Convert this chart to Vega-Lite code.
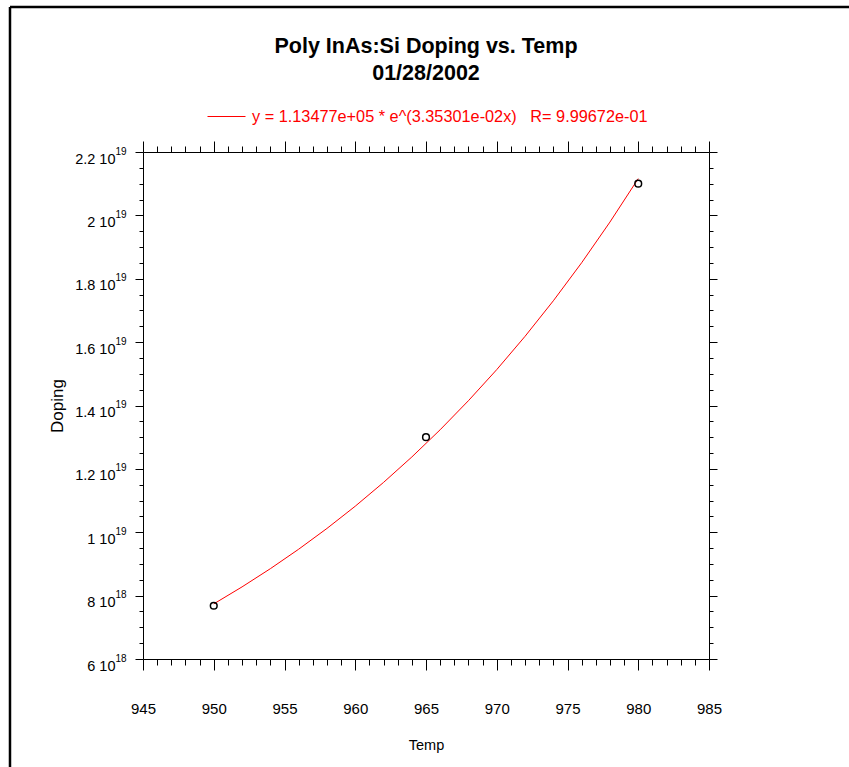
{
  "$schema": "https://vega.github.io/schema/vega-lite/v6.json",
  "width": 566,
  "height": 507,
  "autosize": {"type": "none"},
  "padding": {"left": 143, "top": 152, "right": 140, "bottom": 108},
  "background": "white",
  "config": {
    "view": {"stroke": null},
    "axis": {
      "domainColor": "black",
      "tickColor": "black",
      "labelColor": "black",
      "titleColor": "black",
      "grid": false,
      "domainWidth": 1,
      "tickWidth": 1,
      "labelFont": "Liberation Sans",
      "titleFont": "Liberation Sans",
      "titleFontWeight": "normal",
      "labelOverlap": false,
      "labelFlush": false
    }
  },
  "title": {
    "text": ["Poly InAs:Si Doping vs. Temp", "01/28/2002"],
    "font": "Liberation Sans",
    "fontSize": 21.5,
    "fontWeight": "bold",
    "color": "black",
    "anchor": "middle",
    "lineHeight": 27,
    "baseline": "alphabetic",
    "offset": 0,
    "dy": 95.75
  },
  "datasets": {
    "fit": [
      {"temp": 950, "doping": 7.739e18},
      {"temp": 952, "doping": 8.276e18},
      {"temp": 954, "doping": 8.850e18},
      {"temp": 956, "doping": 9.464e18},
      {"temp": 958, "doping": 1.0120e19},
      {"temp": 960, "doping": 1.0822e19},
      {"temp": 962, "doping": 1.1573e19},
      {"temp": 964, "doping": 1.2376e19},
      {"temp": 966, "doping": 1.3234e19},
      {"temp": 968, "doping": 1.4152e19},
      {"temp": 970, "doping": 1.5133e19},
      {"temp": 972, "doping": 1.6183e19},
      {"temp": 974, "doping": 1.7305e19},
      {"temp": 976, "doping": 1.8505e19},
      {"temp": 978, "doping": 1.9789e19},
      {"temp": 980, "doping": 2.1161e19}
    ],
    "measured": [
      {"temp": 950, "doping": 7.68e18},
      {"temp": 965, "doping": 1.30e19},
      {"temp": 980, "doping": 2.10e19}
    ]
  },
  "layer": [
    {
      "data": {"name": "fit"},
      "mark": {"type": "line", "strokeWidth": 1, "clip": false},
      "encoding": {
        "x": {
          "field": "temp", "type": "quantitative",
          "scale": {"domain": [945, 985], "nice": false, "zero": false},
          "axis": {
            "orient": "bottom",
            "values": [945,946,947,948,949,950,951,952,953,954,955,956,957,958,959,960,961,962,963,964,965,966,967,968,969,970,971,972,973,974,975,976,977,978,979,980,981,982,983,984,985],
            "tickSize": {"condition": {"test": "datum.value % 5 === 0", "value": 11}, "value": 6},
            "labelExpr": "datum.value % 5 === 0 ? datum.label : ''",
            "labelFontSize": 15,
            "labelPadding": 31,
            "title": "Temp",
            "titleFontSize": 14.5,
            "titlePadding": 22
          }
        },
        "y": {
          "field": "doping", "type": "quantitative",
          "scale": {"domain": [6e18, 2.2e19], "nice": false, "zero": false},
          "axis": {
            "orient": "left",
            "values": [6e18,6.5e18,7e18,7.5e18,8e18,8.5e18,9e18,9.5e18,1e19,1.05e19,1.1e19,1.15e19,1.2e19,1.25e19,1.3e19,1.35e19,1.4e19,1.45e19,1.5e19,1.55e19,1.6e19,1.65e19,1.7e19,1.75e19,1.8e19,1.85e19,1.9e19,1.95e19,2e19,2.05e19,2.1e19,2.15e19,2.2e19],
            "tickSize": {"condition": {"test": "datum.value % 2000000000000000000 === 0", "value": 8}, "value": 4},
            "labelExpr": "datum.value % 2000000000000000000 !== 0 ? '' : format(datum.value >= 10000000000000000000 ? datum.value / 10000000000000000000 : datum.value / 1000000000000000000, '.2~f') + ' 10'",
            "labelFontSize": 14.5,
            "labelPadding": 20,
            "labelOffset": 7,
            "labelBaseline": "middle",
            "labelAlign": "right",
            "title": "Doping",
            "titleFont": "Liberation Sans",
            "titleFontSize": 17,
            "titlePadding": 8
          }
        },
        "color": {
          "datum": "y = 1.13477e+05 * e^(3.35301e-02x)\u00a0\u00a0\u00a0R= 9.99672e-01",
          "type": "nominal",
          "scale": {"range": ["#ff0000"]},
          "legend": {
            "orient": "none",
            "legendX": 64,
            "legendY": -55,
            "title": null,
            "padding": 0,
            "symbolType": "stroke",
            "symbolSize": 1444,
            "symbolStrokeWidth": 1,
            "labelFont": "Liberation Sans",
            "labelFontSize": 16.3,
            "labelColor": "#ff0000",
            "labelLimit": 1000,
            "labelOffset": 6
          }
        }
      }
    },
    {
      "data": {"name": "measured"},
      "mark": {"type": "point", "shape": "circle", "filled": false, "color": "black", "size": 45, "strokeWidth": 1.5, "opacity": 1},
      "encoding": {
        "x": {
          "field": "temp", "type": "quantitative",
          "axis": {
            "orient": "top",
            "values": [945,946,947,948,949,950,951,952,953,954,955,956,957,958,959,960,961,962,963,964,965,966,967,968,969,970,971,972,973,974,975,976,977,978,979,980,981,982,983,984,985],
            "tickSize": {"condition": {"test": "datum.value % 5 === 0", "value": 11}, "value": 6},
            "labels": false,
            "title": null
          }
        },
        "y": {
          "field": "doping", "type": "quantitative",
          "axis": {
            "orient": "right",
            "values": [6e18,6.5e18,7e18,7.5e18,8e18,8.5e18,9e18,9.5e18,1e19,1.05e19,1.1e19,1.15e19,1.2e19,1.25e19,1.3e19,1.35e19,1.4e19,1.45e19,1.5e19,1.55e19,1.6e19,1.65e19,1.7e19,1.75e19,1.8e19,1.85e19,1.9e19,1.95e19,2e19,2.05e19,2.1e19,2.15e19,2.2e19],
            "tickSize": {"condition": {"test": "datum.value % 2000000000000000000 === 0", "value": 8}, "value": 4},
            "labels": false,
            "title": null
          }
        }
      }
    },
    {
      "data": {"name": "measured"},
      "mark": {"type": "point", "opacity": 0},
      "encoding": {
        "x": {"field": "temp", "type": "quantitative", "axis": null},
        "y": {
          "field": "doping", "type": "quantitative",
          "axis": {
            "orient": "left",
            "values": [6e18,8e18,1e19,1.2e19,1.4e19,1.6e19,1.8e19,2e19,2.2e19],
            "ticks": false,
            "tickSize": 0,
            "domain": false,
            "labelExpr": "datum.value >= 10000000000000000000 ? '19' : '18'",
            "labelFontSize": 10,
            "labelPadding": 17,
            "labelOffset": -1,
            "labelBaseline": "middle",
            "labelAlign": "right",
            "title": null
          }
        }
      }
    },
    {
      "data": {"values": [{}]},
      "mark": {"type": "rule", "color": "black", "strokeWidth": 2.5, "clip": false},
      "encoding": {
        "x": {"datum": 935.6, "type": "quantitative", "axis": null},
        "x2": {"datum": 996.5},
        "y": {"datum": 2.6576e19, "type": "quantitative", "axis": null}
      }
    },
    {
      "data": {"values": [{}]},
      "mark": {"type": "rule", "color": "black", "strokeWidth": 2.5, "clip": false},
      "encoding": {
        "x": {"datum": 935.6, "type": "quantitative", "axis": null},
        "y": {"datum": 2.6576e19, "type": "quantitative", "axis": null},
        "y2": {"datum": 2.18e18}
      }
    }
  ],
  "resolve": {"axis": {"x": "independent", "y": "independent"}}
}
